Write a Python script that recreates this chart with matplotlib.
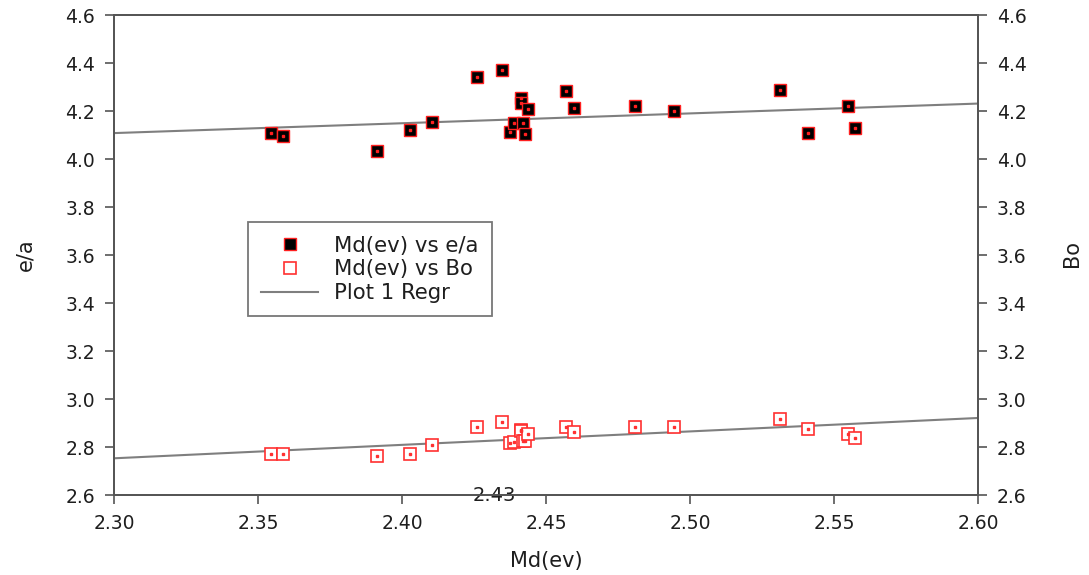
import matplotlib
matplotlib.use("Agg")
import matplotlib.pyplot as plt
import numpy as np
from matplotlib.ticker import FormatStrFormatter

md = [2.3546, 2.3588, 2.3912, 2.4027, 2.4103, 2.4260, 2.4347, 2.4375, 2.4389,
      2.4413, 2.4413, 2.4420, 2.4427, 2.4437, 2.4570, 2.4597, 2.4810, 2.4945,
      2.5314, 2.5408, 2.5548, 2.5572]
ea = [4.108, 4.095, 4.032, 4.122, 4.155, 4.341, 4.370, 4.113, 4.149,
      4.256, 4.233, 4.149, 4.104, 4.210, 4.283, 4.211, 4.220, 4.198,
      4.287, 4.107, 4.220, 4.128]
bo = [2.770, 2.770, 2.763, 2.772, 2.808, 2.883, 2.904, 2.818, 2.822,
      2.870, 2.865, 2.825, 2.825, 2.853, 2.884, 2.864, 2.885, 2.885,
      2.917, 2.873, 2.853, 2.837]

regr_x = [2.30, 2.60]
regr_ea = [4.108, 4.231]
regr_bo = [2.753, 2.921]

x_ticks = [2.30, 2.35, 2.40, 2.45, 2.50, 2.55, 2.60]
y_ticks = [2.6, 2.8, 3.0, 3.2, 3.4, 3.6, 3.8, 4.0, 4.2, 4.4, 4.6]

plt.rcParams['font.family'] = ['DejaVu Sans']

fig = plt.figure(figsize=(10.89, 5.75), dpi=100)
ax = fig.add_axes([0.1047, 0.1391, 0.7934, 0.8348])
ax2 = ax.twinx()

spine_col = '#555555'
txt_col = '#1e1e1e'
line_col = '#7f7f7f'

l1, = ax.plot(regr_x, regr_ea, color=line_col, lw=1.5, zorder=2)
ax.plot(regr_x, regr_bo, color=line_col, lw=1.5, zorder=2)

s1, = ax.plot(md, ea, linestyle='none', marker='s', markersize=8.5,
              markerfacecolor='black', markeredgecolor='#ff2020', markeredgewidth=1.0, zorder=3)
ax.plot(md, ea, linestyle='none', marker='s', markersize=1.5,
        markerfacecolor='#ff2020', markeredgecolor='#ff2020', zorder=4)
s2, = ax.plot(md, bo, linestyle='none', marker='s', markersize=8.5,
              markerfacecolor='white', markeredgecolor='#ff3030', markeredgewidth=1.2, zorder=3)
ax.plot(md, bo, linestyle='none', marker='s', markersize=1.5,
        markerfacecolor='#ff3030', markeredgecolor='#ff3030', zorder=4)

for a in (ax, ax2):
    a.set_xlim(2.30, 2.60)
    a.set_ylim(2.6, 4.6)
    a.set_yticks(y_ticks)
    a.yaxis.set_major_formatter(FormatStrFormatter('%.1f'))
    for sp in a.spines.values():
        sp.set_color(spine_col)
        sp.set_linewidth(1.3)
    a.tick_params(direction='out', length=6.5, width=1.2, color=spine_col,
                  labelsize=13.5, labelcolor=txt_col, pad=7)

ax.set_xticks(x_ticks)
ax.xaxis.set_major_formatter(FormatStrFormatter('%.2f'))

ax.set_xlabel('Md(ev)', fontsize=15, color=txt_col)
ax.xaxis.set_label_coords(0.5, -0.117)
ax.set_ylabel('e/a', fontsize=15, color=txt_col)
ax.yaxis.set_label_coords(-0.091, 0.501)
ax2.set_ylabel('Bo', fontsize=15, color=txt_col)
ax2.yaxis.set_label_coords(1.097, 0.503)

ax.text(2.432, 2.60, '2.43', fontsize=14, color=txt_col, ha='center', va='center', zorder=5)

leg = ax.legend([s1, s2, l1], ['Md(ev) vs e/a', 'Md(ev) vs Bo', 'Plot 1 Regr'],
                loc='upper left', bbox_to_anchor=(0.155, 0.568), fontsize=15.3,
                frameon=True, fancybox=False, borderpad=0.62, handlelength=2.7,
                handletextpad=0.75, labelspacing=0.18, borderaxespad=0)
leg.get_frame().set_edgecolor('#555555')
leg.get_frame().set_linewidth(1.3)
for t in leg.get_texts():
    t.set_color(txt_col)

fig.savefig('out.png', dpi=100)
